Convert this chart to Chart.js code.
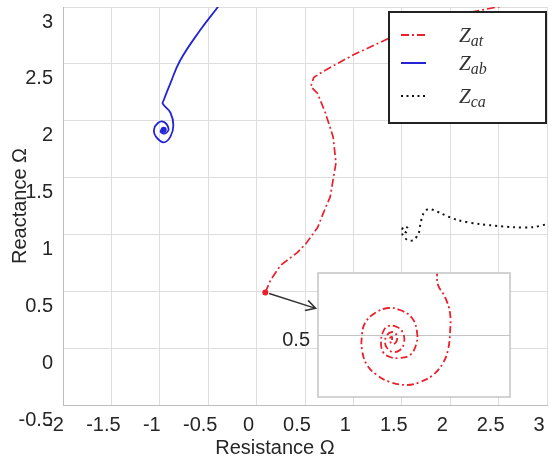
<!DOCTYPE html>
<html>
<head>
<meta charset="utf-8">
<script src="https://cdn.jsdelivr.net/npm/chart.js@4.4.1/dist/chart.umd.min.js"></script>
<style>
body { margin: 0; background: #fff; }
#wrap { position: relative; width: 558px; height: 461px; }
#main { position: absolute; left: 0; top: 0; }
#inset { position: absolute; left: 270px; top: 262px; }
</style>
</head>
<body>
<div id="wrap">
<canvas id="main" width="558" height="461"></canvas>
<canvas id="inset" width="250" height="145"></canvas>
</div>
<script>
// tick values
const xTicks = [-2, -1.5, -1, -0.5, 0, 0.5, 1, 1.5, 2, 2.5, 3]
const yTicks = [-0.5, 0, 0.5, 1, 1.5, 2, 2.5, 3]
const insetTicks = [0.5]

// Z_at (red, dash-dot) - starts at the zoomed point
const zatX = [0.09, 0.145, 0.25, 0.42, 0.51, 0.63, 0.69, 0.76, 0.82, 0.79, 0.71, 0.63, 0.56, 0.59, 0.68, 1.00, 1.38, 1.69, 2.49, 2.7]
const zatY = [0.49, 0.60, 0.73, 0.84, 0.92, 1.06, 1.19, 1.33, 1.63, 1.86, 2.07, 2.24, 2.30, 2.38, 2.43, 2.58, 2.73, 2.87, 3.0, 3.05]

// Z_ab (blue, solid)
const zabX = [-0.36, -0.40, -0.58, -0.79, -0.89, -0.96, -0.97, -0.89, -0.86, -0.89, -0.96, -1.04, -1.06, -1.02, -0.96, -0.91, -0.94, -0.99, -0.97, -0.96]
const zabY = [3.05, 3.0, 2.80, 2.53, 2.33, 2.18, 2.15, 2.07, 1.96, 1.86, 1.81, 1.86, 1.92, 1.98, 1.99, 1.93, 1.89, 1.90, 1.93, 1.92]

// Z_ca (black, dotted)
const zcaX = [3.1, 3.0, 2.86, 2.655, 2.314, 2.076, 1.90, 1.83, 1.77, 1.725, 1.694, 1.674, 1.62, 1.56, 1.51, 1.50, 1.53, 1.56, 1.55, 1.52, 1.53]
const zcaY = [1.10, 1.09, 1.064, 1.064, 1.09, 1.126, 1.187, 1.214, 1.222, 1.187, 1.10, 1.011, 0.95, 0.95, 0.994, 1.038, 1.073, 1.055, 1.02, 1.03, 1.047]

// inset: zoom on Z_at end point
const insetX = [0.119, 0.119, 0.120, 0.127, 0.132, 0.132, 0.130, 0.125, 0.115, 0.102, 0.089, 0.072, 0.059, 0.049, 0.044, 0.044, 0.047, 0.057, 0.070, 0.082, 0.094, 0.099, 0.098, 0.092, 0.082, 0.072, 0.065, 0.063, 0.065, 0.070, 0.079, 0.085, 0.086, 0.082, 0.075, 0.069, 0.067, 0.069, 0.074, 0.078, 0.079, 0.076, 0.073, 0.072, 0.074, 0.074]
const insetY = [0.566, 0.562, 0.550, 0.538, 0.522, 0.502, 0.485, 0.472, 0.460, 0.453, 0.450, 0.453, 0.460, 0.470, 0.485, 0.500, 0.512, 0.522, 0.527, 0.525, 0.517, 0.503, 0.490, 0.480, 0.477, 0.478, 0.483, 0.493, 0.503, 0.509, 0.508, 0.502, 0.492, 0.485, 0.483, 0.487, 0.493, 0.500, 0.503, 0.501, 0.495, 0.491, 0.492, 0.497, 0.498, 0.495]

const red = 'rgb(235, 32, 42)'
const blue = 'rgb(36, 36, 214)'
const black = '#111'
const txtColor = '#262626'
const fontTxt = { family: '"Liberation Sans", Arial, sans-serif', size: 20 }

function pts(xs, ys) {
    return xs.map((x, i) => ({ x: x, y: ys[i] }))
}

const extras = {
    id: 'extras',
    afterDraw(chart) {
        const c = chart.ctx
        const sx = chart.scales.x
        const sy = chart.scales.y
        // arrow to the inset
        const x0 = sx.getPixelForValue(0.13), y0 = sy.getPixelForValue(0.48)
        const x1 = sx.getPixelForValue(0.61), y1 = sy.getPixelForValue(0.35)
        const a = Math.atan2(y1 - y0, x1 - x0)
        c.save()
        c.strokeStyle = '#333'
        c.lineWidth = 1.5
        c.beginPath()
        c.moveTo(x0, y0)
        c.lineTo(x1, y1)
        c.moveTo(x1 - 11 * Math.cos(a - 0.5), y1 - 11 * Math.sin(a - 0.5))
        c.lineTo(x1, y1)
        c.lineTo(x1 - 11 * Math.cos(a + 0.5), y1 - 11 * Math.sin(a + 0.5))
        c.stroke()
        c.restore()

        // x axis title
        c.save()
        c.fillStyle = txtColor
        c.font = '20px "Liberation Sans", Arial, sans-serif'
        c.textAlign = 'center'
        c.textBaseline = 'middle'
        c.fillText('Resistance Ω', 275, 448)
        c.restore()

        // legend box
        c.save()
        c.fillStyle = '#fff'
        c.fillRect(389, 12, 157, 111)
        c.strokeStyle = '#222'
        c.lineWidth = 2
        c.strokeRect(389, 12, 157, 111)
        const items = [
            { sub: 'at', color: red, dash: [8, 3, 2, 3], w: 1.8, y: 35 },
            { sub: 'ab', color: blue, dash: [], w: 2, y: 63 },
            { sub: 'ca', color: black, dash: [2, 3.5], w: 2, y: 96 }
        ]
        for (const it of items) {
            c.strokeStyle = it.color
            c.lineWidth = it.w
            c.setLineDash(it.dash)
            c.beginPath()
            c.moveTo(401, it.y)
            c.lineTo(426, it.y)
            c.stroke()
            c.setLineDash([])
            c.fillStyle = '#333'
            c.textBaseline = 'alphabetic'
            c.font = 'italic 21px "Liberation Serif", serif'
            c.fillText('Z', 459, it.y + 7)
            const zw = c.measureText('Z').width
            c.font = 'italic 16px "Liberation Serif", serif'
            c.fillText(it.sub, 459 + zw, it.y + 11)
        }
        c.restore()
    }
}

new Chart(document.getElementById('main'), {
    type: 'scatter',
    data: {
        datasets: [{
            label: 'Zat',
            data: pts(zatX, zatY),
            showLine: true,
            borderColor: red,
            borderWidth: 1.7,
            borderDash: [8, 3, 2, 3],
            pointRadius: ctx => ctx.dataIndex === 0 ? 3 : 0,
            pointBackgroundColor: red,
            pointBorderWidth: 0
        }, {
            label: 'Zab',
            data: pts(zabX, zabY),
            showLine: true,
            tension: 0.4,
            borderColor: blue,
            borderWidth: 1.8,
            pointRadius: ctx => ctx.dataIndex === zabX.length - 1 ? 3 : 0,
            pointBackgroundColor: blue,
            pointBorderWidth: 0
        }, {
            label: 'Zca',
            data: pts(zcaX, zcaY),
            showLine: true,
            tension: 0.3,
            borderColor: black,
            borderWidth: 2,
            borderDash: [2, 4],
            pointRadius: 0
        }]
    },
    options: {
        responsive: false,
        animation: false,
        layout: { padding: { top: 7, right: 11, left: 0, bottom: 0 } },
        plugins: { legend: { display: false }, tooltip: { enabled: false } },
        scales: {
            x: {
                type: 'linear',
                min: -2,
                max: 3,
                afterBuildTicks: s => { s.ticks = xTicks.map(v => ({ value: v })) },
                afterFit: s => { s.height = 56; s.paddingLeft = 0; s.paddingRight = 0 },
                grid: { color: '#dedede', drawTicks: false },
                border: { color: '#bdbdbd' },
                ticks: { padding: 8, labelOffset: -8, color: txtColor, font: fontTxt, maxRotation: 0, autoSkip: false, callback: v => String(v) }
            },
            y: {
                type: 'linear',
                min: -0.5,
                max: 3,
                afterBuildTicks: s => { s.ticks = yTicks.map(v => ({ value: v })) },
                afterFit: s => { s.width = 63; s.paddingTop = 0; s.paddingBottom = 0 },
                grid: { color: '#dedede', drawTicks: false },
                border: { color: '#bdbdbd' },
                ticks: { padding: 10, labelOffset: 15, color: txtColor, font: fontTxt, autoSkip: false, callback: v => String(v) },
                title: { display: true, text: 'Reactance Ω', color: txtColor, font: fontTxt, padding: { top: 8, bottom: 0 } }
            }
        }
    },
    plugins: [extras]
})

const insetFrame = {
    id: 'insetFrame',
    beforeDraw(chart) {
        const a = chart.chartArea
        chart.ctx.save()
        chart.ctx.fillStyle = '#fff'
        chart.ctx.fillRect(a.left, a.top, a.right - a.left, a.bottom - a.top)
        chart.ctx.restore()
    },
    afterDraw(chart) {
        const a = chart.chartArea
        chart.ctx.save()
        chart.ctx.strokeStyle = '#c4c4c4'
        chart.ctx.lineWidth = 1.5
        chart.ctx.strokeRect(a.left, a.top, a.right - a.left, a.bottom - a.top)
        chart.ctx.restore()
    }
}

new Chart(document.getElementById('inset'), {
    type: 'scatter',
    data: {
        datasets: [{
            label: 'Zat zoom',
            data: pts(insetX, insetY),
            showLine: true,
            tension: 0.4,
            borderColor: red,
            borderWidth: 1.8,
            borderDash: [7, 3, 2, 3],
            pointRadius: 0
        }]
    },
    options: {
        responsive: false,
        animation: false,
        layout: { padding: { top: 11, right: 10, left: 0, bottom: 10 } },
        plugins: { legend: { display: false }, tooltip: { enabled: false } },
        scales: {
            x: { type: 'linear', min: 0, max: 0.192, display: false },
            y: {
                type: 'linear',
                min: 0.438,
                max: 0.562,
                afterBuildTicks: s => { s.ticks = insetTicks.map(v => ({ value: v })) },
                afterFit: s => { s.width = 48; s.paddingTop = 0; s.paddingBottom = 0 },
                grid: { color: '#c4c4c4', drawTicks: false },
                border: { display: false },
                ticks: { padding: 8, labelOffset: 5, color: txtColor, font: fontTxt, callback: v => String(v) }
            }
        }
    },
    plugins: [insetFrame]
})
</script>
</body>
</html>
